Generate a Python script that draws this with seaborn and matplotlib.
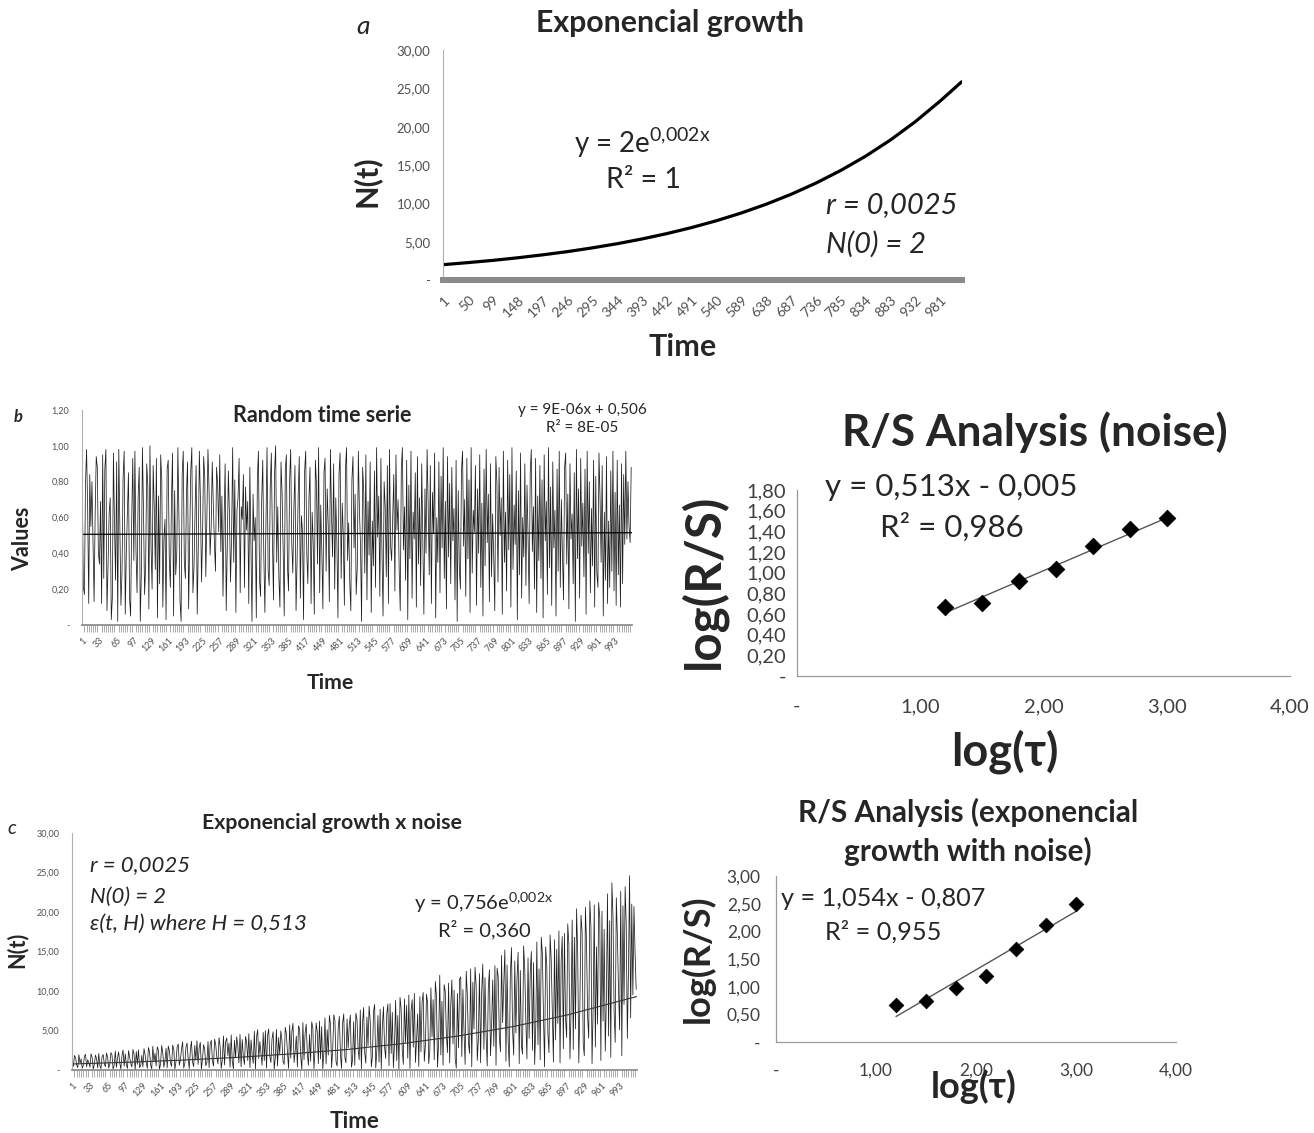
import numpy as np
import pandas as pd
import matplotlib
matplotlib.use('Agg')
import matplotlib.pyplot as plt
from matplotlib.ticker import FuncFormatter, FixedLocator
import seaborn as sns

sns.set_theme(style="white")
plt.rcParams['font.family'] = ['Lato', 'DejaVu Sans']
plt.rcParams['mathtext.fontset'] = 'custom'
plt.rcParams['mathtext.rm'] = 'Lato'
plt.rcParams['mathtext.it'] = 'Lato:italic'
plt.rcParams['mathtext.bf'] = 'Lato:bold'
plt.rcParams['mathtext.default'] = 'regular'

# ---- data ----
# (a) exponential growth, sampled at the axis categories
a_time = [1, 50, 99, 148, 197, 246, 295, 344, 393, 442, 491, 540, 589, 638, 687,
          736, 785, 834, 883, 932, 981, 1024]
a_values = [2.00, 2.27, 2.56, 2.90, 3.28, 3.70, 4.19, 4.73, 5.35, 6.05, 6.84, 7.73,
            8.74, 9.88, 11.17, 12.63, 14.28, 16.14, 18.25, 20.63, 23.32, 25.86]
a_xticks = [1, 50, 99, 148, 197, 246, 295, 344, 393, 442, 491, 540, 589, 638, 687,
            736, 785, 834, 883, 932, 981]
a_yticks = [0, 5, 10, 15, 20, 25, 30]

# (b) random time series (every second point)
b_values = [
    0.78, 0.21, 0.17, 0.79, 0.98, 0.66, 0.12, 0.84, 0.55, 0.80, 0.45, 0.13, 0.62, 0.94, 0.88, 0.40, 0.34, 0.69, 0.12, 0.95, 0.26, 0.87, 0.98, 0.08, 0.33, 0.62, 0.71, 0.03, 0.15, 0.96, 0.57, 0.25,
    0.91, 0.02, 0.98, 0.54, 0.11, 0.30, 0.82, 0.97, 0.06, 0.40, 0.63, 0.85, 0.15, 0.05, 0.58, 0.93, 0.36, 0.97, 0.42, 0.18, 0.71, 0.88, 0.02, 0.29, 0.99, 0.64, 0.17, 0.33, 0.90, 0.78, 0.09, 1.00,
    0.45, 0.20, 0.89, 0.66, 0.31, 0.93, 0.04, 0.72, 0.23, 0.95, 0.81, 0.10, 0.48, 0.59, 0.03, 0.87, 0.92, 0.37, 0.21, 0.68, 0.96, 0.05, 0.75, 0.28, 0.41, 0.99, 0.60, 0.13, 0.02, 0.84, 0.97, 0.35,
    0.26, 0.73, 0.91, 0.09, 0.47, 0.86, 0.99, 0.18, 0.32, 0.64, 0.89, 0.06, 0.43, 0.97, 0.70, 0.24, 0.51, 0.94, 0.83, 0.27, 0.60, 0.98, 0.76, 0.39, 0.55, 0.91, 0.67, 0.46, 0.30, 0.88, 0.79, 0.52,
    0.95, 0.41, 0.72, 0.16, 0.58, 0.90, 0.08, 0.44, 0.86, 0.62, 0.24, 0.49, 0.99, 0.35, 0.81, 0.07, 0.64, 0.71, 0.93, 0.18, 0.66, 0.59, 0.84, 0.21, 0.77, 0.53, 0.69, 0.12, 0.88, 0.43, 0.02, 0.73,
    0.47, 0.60, 0.04, 0.82, 0.97, 0.25, 0.16, 0.69, 0.92, 0.39, 0.07, 0.58, 0.99, 0.31, 0.22, 0.77, 0.96, 0.48, 0.14, 0.85, 1.00, 0.35, 0.66, 0.27, 0.10, 0.91, 0.74, 0.42, 0.05, 0.87, 0.95, 0.33,
    0.19, 0.80, 0.98, 0.46, 0.29, 0.65, 0.89, 0.08, 0.37, 0.72, 0.94, 0.15, 0.61, 0.52, 0.03, 0.86, 0.97, 0.40, 0.23, 0.70, 0.88, 0.12, 0.63, 0.45, 0.06, 0.92, 0.79, 0.34, 0.99, 0.18, 0.67, 0.41,
    0.09, 0.85, 0.93, 0.30, 0.76, 0.55, 0.13, 0.98, 0.62, 0.38, 0.90, 0.20, 0.71, 0.47, 0.04, 0.84, 0.96, 0.26, 0.68, 0.50, 0.11, 0.87, 0.99, 0.36, 0.57, 0.24, 0.08, 0.81, 0.94, 0.43, 0.73, 0.17,
    0.32, 0.97, 0.64, 0.45, 0.02, 0.88, 0.75, 0.29, 0.95, 0.14, 0.69, 0.39, 0.91, 0.07, 0.58, 0.33, 0.86, 0.21, 0.99, 0.49, 0.72, 0.16, 0.93, 0.41, 0.05, 0.80, 0.66, 0.27, 0.89, 0.12, 0.98, 0.44,
    0.36, 0.61, 0.84, 0.19, 0.95, 0.53, 0.70, 0.31, 0.08, 0.87, 0.99, 0.42, 0.66, 0.25, 0.92, 0.03, 0.78, 0.37, 0.97, 0.15, 0.63, 0.48, 0.85, 0.10, 0.94, 0.34, 0.71, 0.22, 0.90, 0.46, 0.06, 0.76,
    0.40, 0.98, 0.67, 0.28, 0.89, 0.12, 0.74, 0.51, 0.96, 0.04, 0.60, 0.35, 0.91, 0.18, 0.83, 0.43, 0.99, 0.26, 0.69, 0.09, 0.94, 0.38, 0.79, 0.23, 0.88, 0.47, 0.65, 0.14, 0.92, 0.02, 0.75, 0.32,
    0.20, 0.86, 0.97, 0.44, 0.70, 0.16, 0.93, 0.37, 0.81, 0.07, 0.99, 0.29, 0.64, 0.52, 0.89, 0.11, 0.76, 0.40, 0.95, 0.21, 0.68, 0.05, 0.87, 0.33, 0.98, 0.46, 0.73, 0.13, 0.90, 0.27, 0.62, 0.39,
    0.08, 0.94, 0.79, 0.24, 0.88, 0.50, 0.71, 0.06, 0.97, 0.35, 0.63, 0.19, 0.92, 0.42, 0.84, 0.10, 0.99, 0.31, 0.67, 0.45, 0.86, 0.03, 0.75, 0.28, 0.96, 0.15, 0.60, 0.38, 0.90, 0.22, 0.78, 0.49,
    0.12, 0.85, 0.98, 0.41, 0.66, 0.20, 0.93, 0.07, 0.72, 0.36, 0.89, 0.26, 0.81, 0.04, 0.95, 0.47, 0.69, 0.17, 0.99, 0.32, 0.77, 0.11, 0.91, 0.43, 0.64, 0.05, 0.87, 0.30, 0.97, 0.21, 0.70, 0.39,
    0.14, 0.88, 0.96, 0.34, 0.73, 0.09, 0.90, 0.48, 0.62, 0.23, 0.85, 0.02, 0.98, 0.37, 0.76, 0.15, 0.93, 0.44, 0.68, 0.27, 0.87, 0.06, 0.97, 0.40, 0.80, 0.18, 0.65, 0.33, 0.92, 0.10, 0.83, 0.29,
    0.21, 0.96, 0.71, 0.35, 0.89, 0.05, 0.63, 0.25, 0.94, 0.12, 0.58, 0.21, 0.86, 0.30, 0.97, 0.19, 0.74, 0.11, 0.92, 0.28, 0.67, 0.10, 0.90, 0.23, 0.84, 0.45, 0.97, 0.48, 0.80, 0.55, 0.46, 0.88,
]
b_trend_time = [1, 1024]
b_trend = [0.506, 0.515]
b_yticks = [0, 0.2, 0.4, 0.6, 0.8, 1.0, 1.2]
bc_xticks = [1, 33, 65, 97, 129, 161, 193, 225, 257, 289, 321, 353, 385, 417, 449, 481,
             513, 545, 577, 609, 641, 673, 705, 737, 769, 801, 833, 865, 897, 929, 961, 993]

# (c) exponential growth x noise (every second point)
c_values = [
    1.20, 0.45, 1.85, 1.55, 0.62, 0.30, 1.93, 0.85, 1.40, 0.22, 0.58, 1.75, 1.98, 0.40, 1.30, 0.95, 0.35, 2.05, 1.62, 0.12, 0.70, 1.88, 1.45, 0.28, 2.10, 0.52, 0.18, 1.70, 1.95, 0.80, 0.42, 2.15,
    1.65, 0.25, 0.75, 2.20, 1.90, 0.10, 0.60, 2.40, 0.33, 1.50, 2.30, 0.90, 0.15, 1.78, 2.52, 0.48, 2.05, 0.68, 0.20, 2.45, 1.60, 0.85, 0.38, 2.60, 1.95, 0.05, 2.35, 0.72, 2.55, 0.30, 0.55, 1.85,
    0.40, 2.70, 1.90, 0.95, 0.22, 2.85, 2.30, 0.65, 0.15, 3.00, 1.05, 2.10, 0.50, 2.95, 2.50, 0.08, 0.78, 3.10, 2.20, 0.35, 1.20, 2.75, 0.28, 3.05, 2.40, 0.90, 0.45, 3.15, 2.60, 0.12, 1.10, 2.90,
    3.30, 0.60, 1.30, 2.70, 3.55, 0.25, 0.85, 2.90, 3.40, 1.50, 0.18, 2.50, 3.65, 1.00, 0.42, 3.10, 1.25, 3.70, 0.70, 2.80, 3.50, 0.10, 1.40, 3.20, 2.65, 0.55, 0.95, 3.60, 0.30, 3.35, 3.75, 1.15,
    0.50, 3.90, 3.20, 1.60, 0.80, 4.10, 2.95, 0.20, 1.35, 4.30, 0.65, 3.60, 4.05, 1.80, 3.40, 0.35, 4.45, 1.10, 0.15, 3.75, 1.55, 4.20, 3.05, 0.90, 4.50, 0.40, 3.85, 1.70, 0.70, 4.25, 3.50, 1.20,
    4.60, 0.30, 3.80, 1.90, 0.85, 4.90, 0.15, 4.20, 5.10, 1.45, 3.60, 2.10, 0.60, 4.75, 1.20, 5.00, 0.25, 4.40, 5.20, 1.75, 0.95, 3.95, 4.85, 0.10, 1.60, 5.15, 0.50, 4.10, 2.00, 4.95, 3.70, 1.05,
    0.70, 5.40, 4.60, 2.20, 0.20, 5.70, 1.50, 4.90, 5.90, 0.95, 2.40, 4.30, 0.40, 5.60, 5.20, 1.80, 0.05, 6.00, 1.30, 4.70, 5.80, 2.10, 0.60, 4.50, 1.10, 6.10, 5.30, 0.15, 2.50, 5.95, 4.80, 0.80,
    6.20, 1.40, 5.50, 0.10, 2.30, 6.60, 0.75, 5.10, 1.90, 6.90, 5.80, 0.30, 2.60, 7.00, 6.30, 1.05, 0.50, 5.40, 6.80, 2.00, 0.20, 5.95, 7.10, 1.60, 0.90, 6.45, 2.80, 5.70, 6.95, 0.35, 1.25, 6.10,
    0.60, 7.20, 6.40, 2.70, 1.30, 7.60, 0.15, 5.90, 7.90, 2.20, 0.85, 6.70, 3.00, 8.10, 6.20, 0.40, 1.75, 7.40, 8.30, 0.25, 2.50, 6.90, 1.00, 7.70, 0.10, 5.60, 8.00, 2.90, 1.45, 7.10, 8.35, 0.55,
    8.40, 2.10, 7.30, 0.30, 3.20, 8.80, 1.20, 6.90, 0.05, 9.20, 7.80, 2.60, 0.70, 9.00, 3.50, 8.20, 1.50, 9.50, 0.20, 7.50, 8.90, 2.90, 9.70, 0.95, 3.80, 7.10, 0.45, 9.30, 2.30, 8.60, 9.80, 1.10,
    3.10, 9.60, 8.50, 0.80, 2.40, 10.40, 4.20, 8.90, 1.30, 11.20, 9.40, 0.35, 3.60, 12.00, 1.90, 8.70, 0.60, 10.80, 9.90, 4.50, 2.20, 11.00, 0.90, 8.30, 11.40, 3.30, 10.10, 1.40, 0.25, 9.70, 2.80, 11.50,
    11.80, 1.70, 10.20, 4.80, 0.70, 12.50, 9.50, 3.40, 2.10, 12.80, 0.40, 11.10, 5.20, 13.00, 10.60, 1.20, 3.90, 12.20, 0.90, 9.90, 13.40, 2.60, 11.70, 4.40, 0.50, 10.30, 12.70, 1.80, 5.60, 11.40, 3.00, 13.20,
    0.60, 12.90, 11.80, 4.20, 2.30, 14.50, 6.00, 10.90, 15.20, 1.10, 13.30, 3.60, 0.40, 12.10, 15.50, 5.00, 1.90, 13.80, 4.70, 11.50, 14.90, 0.80, 12.60, 3.10, 2.00, 15.70, 13.00, 6.30, 1.40, 14.20, 4.00, 12.40,
    15.00, 2.50, 13.60, 0.70, 5.40, 16.20, 3.20, 12.80, 1.30, 16.80, 14.70, 6.80, 0.40, 15.60, 13.20, 4.60, 2.20, 17.10, 14.00, 7.20, 1.00, 16.50, 3.80, 15.30, 5.90, 17.60, 0.90, 13.70, 16.90, 2.70, 17.30, 6.40,
    4.10, 18.50, 15.90, 1.40, 7.50, 19.00, 2.60, 16.80, 5.20, 20.40, 14.80, 0.90, 8.10, 19.60, 17.50, 3.30, 1.80, 20.60, 16.20, 6.70, 4.00, 21.40, 18.10, 0.80, 7.80, 20.90, 2.90, 15.60, 5.80, 21.20, 19.30, 1.20,
    20.10, 6.20, 17.80, 2.40, 9.10, 22.30, 4.30, 18.90, 1.60, 23.70, 19.50, 7.40, 3.50, 21.80, 16.90, 10.20, 5.10, 22.60, 1.80, 20.80, 8.30, 23.20, 18.40, 4.00, 12.50, 24.60, 6.60, 21.00, 9.50, 20.70, 14.80, 10.20,
]
c_trend_time = [1, 100, 200, 300, 400, 500, 600, 700, 800, 900, 1024]
c_trend = [0.76, 0.98, 1.25, 1.60, 2.05, 2.60, 3.35, 4.30, 5.50, 7.00, 9.30]
c_yticks = [0, 5, 10, 15, 20, 25, 30]

# R/S analysis
log_tau = [1.2, 1.5, 1.8, 2.1, 2.4, 2.7, 3.0]
rs_noise = [0.67, 0.71, 0.92, 1.04, 1.26, 1.42, 1.53]
rs_noise_fit_x = [1.2, 3.0]
rs_noise_fit = [0.61, 1.53]
rs_exp = [0.67, 0.74, 0.98, 1.19, 1.68, 2.12, 2.50]
rs_exp_fit_x = [1.2, 3.0]
rs_exp_fit = [0.46, 2.36]

W, H = 1314, 1133
fig = plt.figure(figsize=(W / 100, H / 100), dpi=100)


def px_axes(l, t, r, b):
    return fig.add_axes([l / W, 1 - b / H, (r - l) / W, (b - t) / H])


def ftext(x, y, s, **kw):
    kw.setdefault('ha', 'center')
    kw.setdefault('va', 'center')
    fig.text(x / W, 1 - y / H, s, **kw)


def comma(v, pos=None):
    if abs(v) < 1e-9:
        return '-'
    return f'{v:.2f}'.replace('.', ',')


def series_axes(ax, ticks, size, tick_col, minor_step):
    sns.despine(ax=ax)
    ax.set_xlim(0.5, 1024.5)
    ax.spines['left'].set_color('#b0b0b0')
    ax.spines['left'].set_linewidth(0.8)
    ax.spines['bottom'].set_color('#8a8a8a')
    ax.set_xticks(ticks)
    ax.set_xticklabels([str(v) for v in ticks], rotation=45, ha='right',
                       va='top', rotation_mode='anchor')
    ax.yaxis.set_major_formatter(FuncFormatter(comma))
    ax.tick_params(axis='both', labelsize=size, colors=tick_col)
    ax.tick_params(axis='x', length=0, pad=8)
    ax.tick_params(axis='y', length=3, width=0.6, color='#b0b0b0', pad=6)
    if minor_step:
        ax.xaxis.set_minor_locator(FixedLocator(np.arange(1, 1025, minor_step)))
        ax.tick_params(axis='x', which='minor', length=5, width=0.5,
                       color='#8a8a8a', direction='out', bottom=True)
    ax.set_xlabel('')
    ax.set_ylabel('')


def rs_axes(ax, yticks, size):
    ax.set_xlim(0, 4)
    ax.set_xticks([0, 1, 2, 3, 4])
    ax.set_yticks(yticks)
    ax.set_ylim(yticks[0], yticks[-1])
    sns.despine(ax=ax)
    for s in ('left', 'bottom'):
        ax.spines[s].set_color('#9a9a9a')
        ax.spines[s].set_linewidth(0.9)
    ax.xaxis.set_major_formatter(FuncFormatter(comma))
    ax.yaxis.set_major_formatter(FuncFormatter(comma))
    ax.tick_params(axis='both', labelsize=size, colors='#404040', length=4,
                   width=0.8, color='#9a9a9a')
    ax.set_xlabel('')
    ax.set_ylabel('')


# ---- panel a ----
ax = px_axes(443, 50, 962, 280)
sns.lineplot(data=pd.DataFrame({'t': a_time, 'N': a_values}), x='t', y='N',
             ax=ax, color='black', lw=2.3)
ax.set_ylim(0, 30)
ax.set_yticks(a_yticks)
series_axes(ax, a_xticks, 9.5, '#505050', 0)
ax.spines['bottom'].set_linewidth(4.3)
ax.tick_params(axis='x', pad=10, labelsize=10)
ftext(363, 27, 'a', fontsize=19, style='italic')
ftext(670, 23, 'Exponencial growth', fontsize=21.8, weight='bold')
ftext(366, 181, 'N(t)', fontsize=22, weight='bold', rotation=90)
ftext(683, 347, 'Time', fontsize=22, weight='bold')
ftext(642, 143, 'y = 2e$^{0{,}002x}$', fontsize=20)
ftext(643, 180, 'R² = 1', fontsize=20.5)
ftext(826, 205, 'r = 0,0025', fontsize=21, style='italic', ha='left')
ftext(826, 244, 'N(0) = 2', fontsize=21, style='italic', ha='left')

# ---- panel b (series) ----
b_time = list(range(1, 1025, 2))
ax = px_axes(82, 410, 632, 625)
sns.lineplot(data=pd.DataFrame({'t': b_time, 'v': b_values}), x='t', y='v',
             ax=ax, color='#1e1e1e', lw=0.55)
sns.lineplot(data=pd.DataFrame({'t': b_trend_time, 'v': b_trend}), x='t', y='v',
             ax=ax, color='black', lw=0.9)
ax.set_ylim(0, 1.2)
ax.set_yticks(b_yticks)
series_axes(ax, bc_xticks, 6.5, '#505050', 4)
ftext(18, 417, 'b', fontsize=12, style='italic', weight='bold')
ftext(322, 415, 'Random time serie', fontsize=15.5, weight='bold')
ftext(582, 410, 'y = 9E-06x + 0,506', fontsize=11)
ftext(582, 428, 'R² = 8E-05', fontsize=11)
ftext(23, 539, 'Values', fontsize=15.5, weight='bold', rotation=90)
ftext(330, 683, 'Time', fontsize=15.3, weight='bold')

# ---- panel b (R/S) ----
ax = px_axes(797, 490, 1290, 676)
sns.lineplot(x=rs_noise_fit_x, y=rs_noise_fit, ax=ax, color='#555555', lw=1)
sns.scatterplot(x=log_tau, y=rs_noise, ax=ax, marker='D', s=70, color='black',
                edgecolor='black', zorder=3)
rs_axes(ax, [0, 0.2, 0.4, 0.6, 0.8, 1.0, 1.2, 1.4, 1.6, 1.8], 14.5)
ax.tick_params(axis='x', pad=12)
ax.tick_params(axis='y', pad=4)
ftext(1035, 432, 'R/S Analysis (noise)', fontsize=31.8, weight='bold')
ftext(951, 487, 'y = 0,513x - 0,005', fontsize=22.5)
ftext(952, 527, 'R² = 0,986', fontsize=22.5)
ftext(703, 581, 'log(R/S)', fontsize=35.5, weight='bold', rotation=90)
ftext(1005, 752, 'log(τ)', fontsize=32.5, weight='bold')

# ---- panel c (series) ----
c_time = list(range(1, 1025, 2))
ax = px_axes(72, 833, 637, 1070)
sns.lineplot(data=pd.DataFrame({'t': c_time, 'v': c_values}), x='t', y='v',
             ax=ax, color='#1e1e1e', lw=0.55)
sns.lineplot(data=pd.DataFrame({'t': c_trend_time, 'v': c_trend}), x='t', y='v',
             ax=ax, color='#333333', lw=0.8)
ax.set_ylim(0, 30)
ax.set_yticks(c_yticks)
series_axes(ax, bc_xticks, 6.5, '#505050', 4)
ftext(12, 828, 'c', fontsize=14, style='italic')
ftext(332, 823, 'Exponencial growth x noise', fontsize=15.3, weight='bold')
ftext(90, 865, 'r = 0,0025', fontsize=15.9, style='italic', ha='left')
ftext(90, 897, 'N(0) = 2', fontsize=15.9, style='italic', ha='left')
ftext(90, 924, 'ε(t, H) where H = 0,513', fontsize=15.9, style='italic', ha='left')
ftext(484, 903, 'y = 0,756e$^{0{,}002x}$', fontsize=14.5)
ftext(484, 930, 'R² = 0,360', fontsize=14.5)
ftext(17, 950, 'N(t)', fontsize=15.5, weight='bold', rotation=90)
ftext(355, 1122, 'Time', fontsize=16, weight='bold')

# ---- panel c (R/S) ----
ax = px_axes(776, 876, 1176, 1042)
sns.lineplot(x=rs_exp_fit_x, y=rs_exp_fit, ax=ax, color='#555555', lw=1)
sns.scatterplot(x=log_tau, y=rs_exp, ax=ax, marker='D', s=55, color='black',
                edgecolor='black', zorder=3)
rs_axes(ax, [0, 0.5, 1.0, 1.5, 2.0, 2.5, 3.0], 12.5)
ax.tick_params(axis='x', pad=11)
ax.tick_params(axis='y', pad=7)
ftext(968, 812, 'R/S Analysis (exponencial', fontsize=21.4, weight='bold')
ftext(968, 851, 'growth with noise)', fontsize=21.4, weight='bold')
ftext(883, 898, 'y = 1,054x - 0,807', fontsize=18.2)
ftext(883, 932, 'R² = 0,955', fontsize=18.2)
ftext(697, 959, 'log(R/S)', fontsize=26, weight='bold', rotation=90)
ftext(974, 1087, 'log(τ)', fontsize=26, weight='bold')

fig.savefig('out.png', dpi=100)
